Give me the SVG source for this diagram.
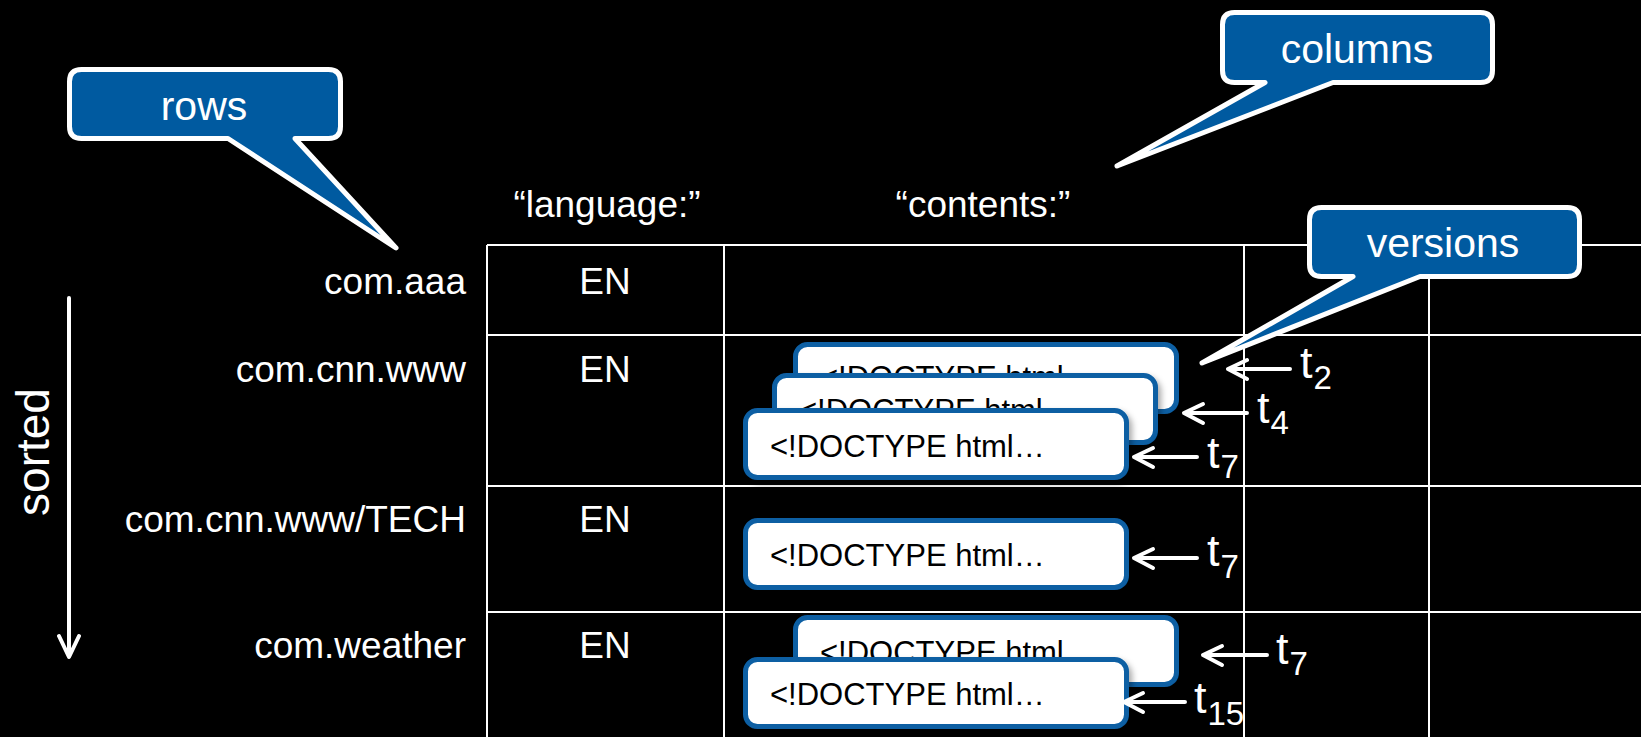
<svg xmlns="http://www.w3.org/2000/svg" width="1641" height="737" viewBox="0 0 1641 737">
<style>
text { font-family: "Liberation Sans", Arial, sans-serif; fill: #ffffff; }
.lbl { font-size: 46px; }
.hdr { font-size: 37px; text-anchor: middle; }
.en { font-size: 37px; text-anchor: middle; }
.row { font-size: 37px; text-anchor: end; }
.call { font-size: 41px; text-anchor: middle; }
.callout { fill: #005AA0; stroke: #ffffff; stroke-width: 5; stroke-linejoin: round; }
.grid { stroke: #ffffff; stroke-width: 2; fill: none; }
.card rect { fill: #ffffff; stroke: #0A5EA3; stroke-width: 5; filter: url(#sh); }
.card text { fill: #000000; font-size: 31px; }
.arr { stroke: #ffffff; stroke-width: 4; fill: none; stroke-linecap: round; stroke-linejoin: round; }
.t { font-size: 45px; }
.sub { font-size: 33px; }
</style>
<defs>
<filter id="sh" x="-10%" y="-20%" width="130%" height="160%">
<feDropShadow dx="3" dy="4" stdDeviation="3" flood-color="#000000" flood-opacity="0.35"/>
</filter>
</defs>
<rect x="0" y="0" width="1641" height="737" fill="#000000"/>

<g id="grid">
<path class="grid" d="M487,245 H1641 M487,335 H1641 M487,486 H1641 M487,612 H1641 M487,245 V737 M724,245 V737 M1244,245 V737 M1429,245 V737"/>
</g>

<g id="headers">
<text class="hdr" x="607" y="217">“language:”</text>
<text class="hdr" x="983" y="217">“contents:”</text>
</g>

<g id="row-labels">
<text class="row" x="466" y="294">com.aaa</text>
<text class="row" x="466" y="382">com.cnn.www</text>
<text class="row" x="466" y="532">com.cnn.www/TECH</text>
<text class="row" x="466" y="658">com.weather</text>
</g>

<g id="language-cells">
<text class="en" x="605" y="294">EN</text>
<text class="en" x="605" y="382">EN</text>
<text class="en" x="605" y="532">EN</text>
<text class="en" x="605" y="658">EN</text>
</g>

<g id="sorted">
<text class="lbl" transform="translate(49,452) rotate(-90)" text-anchor="middle">sorted</text>
<path class="arr" d="M69,298 V656 M59,636 L69,657 L79,636"/>
</g>

<g id="card-cnn-t2" class="card">
<rect x="795.5" y="344.5" width="381" height="67" rx="12"/>
<text x="820" y="388">&lt;!DOCTYPE html…</text>
</g>
<g id="card-cnn-t4" class="card">
<rect x="774.5" y="375.5" width="381" height="67" rx="12"/>
<text x="799" y="421">&lt;!DOCTYPE html…</text>
</g>
<g id="card-cnn-t7" class="card">
<rect x="745.5" y="410.5" width="381" height="67" rx="12"/>
<text x="770" y="457">&lt;!DOCTYPE html…</text>
</g>
<g id="card-tech-t7" class="card">
<rect x="745.5" y="520.5" width="381" height="67" rx="12"/>
<text x="770" y="566">&lt;!DOCTYPE html…</text>
</g>
<g id="card-weather-t7" class="card">
<rect x="795.5" y="617.5" width="381" height="67" rx="12"/>
<text x="820" y="663">&lt;!DOCTYPE html…</text>
</g>
<g id="card-weather-t15" class="card">
<rect x="745.5" y="659.5" width="381" height="67" rx="12"/>
<text x="770" y="705">&lt;!DOCTYPE html…</text>
</g>

<g id="connectors">
<path class="arr" d="M1290,369 H1228 M1247,360 L1228,369 L1247,379"/>
<path class="arr" d="M1247,413 H1184 M1203,404 L1184,413 L1203,423"/>
<path class="arr" d="M1197,457 H1134 M1153,448 L1134,457 L1153,467"/>
<path class="arr" d="M1197,558 H1134 M1153,549 L1134,558 L1153,568"/>
<path class="arr" d="M1267,655 H1203 M1222,646 L1203,655 L1222,665"/>
<path class="arr" d="M1185,702 H1124 M1143,693 L1124,702 L1143,712"/>
</g>

<g id="version-labels">
<text class="t" x="1300" y="378">t<tspan class="sub" dx="1" dy="11">2</tspan></text>
<text class="t" x="1257" y="423">t<tspan class="sub" dx="1" dy="11">4</tspan></text>
<text class="t" x="1207" y="468">t<tspan class="sub" dx="1" dy="10">7</tspan></text>
<text class="t" x="1207" y="566">t<tspan class="sub" dx="1" dy="12">7</tspan></text>
<text class="t" x="1276" y="664">t<tspan class="sub" dx="1" dy="11">7</tspan></text>
<text class="t" x="1194" y="713">t<tspan class="sub" dx="1" dy="12">15</tspan></text>
</g>

<g id="callout-rows">
<path class="callout" d="M81.5,69.5 H328.5 Q340.5,69.5 340.5,81.5 V126.5 Q340.5,138.5 328.5,138.5 H295 L396,248 L228,138.5 H81.5 Q69.5,138.5 69.5,126.5 V81.5 Q69.5,69.5 81.5,69.5 Z"/>
<text class="call" x="204" y="120">rows</text>
</g>
<g id="callout-columns">
<path class="callout" d="M1234.5,12.5 H1480.5 Q1492.5,12.5 1492.5,24.5 V70.5 Q1492.5,82.5 1480.5,82.5 H1333 L1117,166 L1265,82.5 H1234.5 Q1222.5,82.5 1222.5,70.5 V24.5 Q1222.5,12.5 1234.5,12.5 Z"/>
<text class="call" x="1357" y="63">columns</text>
</g>
<g id="callout-versions">
<path class="callout" d="M1321.5,207.5 H1567.5 Q1579.5,207.5 1579.5,219.5 V264.5 Q1579.5,276.5 1567.5,276.5 H1420 L1202,363 L1353,276.5 H1321.5 Q1309.5,276.5 1309.5,264.5 V219.5 Q1309.5,207.5 1321.5,207.5 Z"/>
<text class="call" x="1443" y="257">versions</text>
</g>
</svg>
